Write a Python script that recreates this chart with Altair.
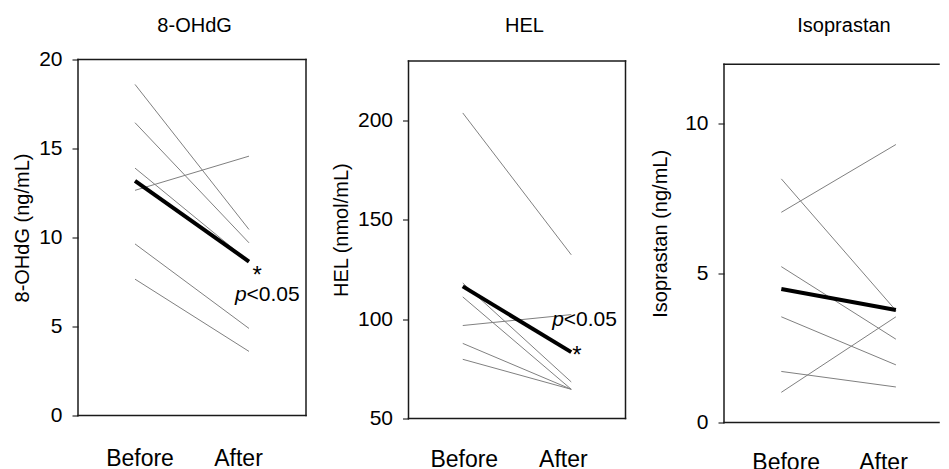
import altair as alt
import pandas as pd

FONT = "Liberation Sans"
FRAME = "#1a1a1a"
phases = ["Before", "After"]

# 8-OHdG (ng/mL), six subjects
ohdg_before = [18.6, 16.45, 13.9, 12.65, 9.64, 7.66]
ohdg_after = [10.45, 9.7, 8.65, 14.57, 4.89, 3.6]
ohdg_mean = [13.18, 8.65]

# HEL (nmol/mL)
hel_before = [203.8, 118.2, 111.2, 96.8, 87.8, 79.8]
hel_after = [132.4, 68.4, 64.7, 102.3, 64.7, 64.7]
hel_mean = [116.5, 83.4]

# Isoprastan (ng/mL)
iso_before = [7.04, 8.16, 5.22, 3.54, 1.71, 1.01]
iso_after = [9.31, 3.75, 2.79, 1.93, 1.19, 3.54]
iso_mean = [4.47, 3.77]

ohdg_ticks = [0, 5, 10, 15, 20]
hel_ticks = [50, 100, 150, 200]
iso_ticks = [0, 5, 10]


def make_panel(title, ytitle, before, after, mean, ydomain, yticks, W, H, top,
               title_offset, title_dx, ytitle_x, xlabel_pad, lab_off, annots,
               xrange=None, right_edge=True):
    rows = []
    for i, (b, a) in enumerate(zip(before, after)):
        rows.append({"id": i, "phase": "Before", "value": b})
        rows.append({"id": i, "phase": "After", "value": a})
    df = pd.DataFrame(rows)
    mdf = pd.DataFrame({"phase": phases, "value": mean})

    if xrange is None:
        xscale = alt.Scale(type="point", padding=0.5, domain=phases)
    else:
        xscale = alt.Scale(type="point", padding=0, domain=phases, range=xrange)
    x = alt.X(
        "phase:N",
        sort=phases,
        scale=xscale,
        axis=alt.Axis(
            title=None, domain=False, ticks=False, labelAngle=0,
            labelFontSize=23, labelPadding=xlabel_pad,
            labelOffset={"condition": {"test": "datum.value === 'Before'", "value": lab_off[0]},
                         "value": lab_off[1]},
        ),
    )
    inner_h = H - top
    y = alt.Y(
        "value:Q",
        scale=alt.Scale(domain=ydomain, range=[H, top], nice=False, zero=False),
        axis=alt.Axis(
            values=yticks, title=ytitle, titleX=ytitle_x, titleY=top + inner_h / 2 - 10,
            titleAngle=270, titleBaseline="middle", titleAlign="center",
            titleFontSize=20, titleFontWeight="normal",
            labelFontSize=21, labelPadding=10, tickSize=6, tickWidth=1,
            domain=False,
        ),
    )
    lines = alt.Chart(df).mark_line(color="#808080", strokeWidth=1).encode(
        x=x, y=y, detail="id:N"
    )
    meanl = alt.Chart(mdf).mark_line(color="black", strokeWidth=4, strokeCap="butt").encode(x=x, y=y)
    layers = [lines, meanl]
    for (label, style, dx, dy, size) in annots:
        adf = pd.DataFrame({"phase": ["After"], "value": [mean[1]], "label": [label]})
        layers.append(
            alt.Chart(adf).mark_text(
                align="left", baseline="alphabetic", dx=dx, dy=dy,
                fontSize=size, font=FONT, fontStyle=style, color="black",
            ).encode(x=x, y=y, text="label:N")
        )
    # plot frame
    edge = pd.DataFrame({"edge": ["frame"]})
    rule = alt.Chart(edge).mark_rule(color=FRAME, strokeWidth=1.5, strokeCap="square")
    layers += [
        rule.encode(x=alt.value(0), x2=alt.value(W), y=alt.value(top)),
        rule.encode(x=alt.value(0), x2=alt.value(W), y=alt.value(H)),
        rule.encode(x=alt.value(0), y=alt.value(top), y2=alt.value(H)),
    ]
    if right_edge:
        layers.append(rule.encode(x=alt.value(W), y=alt.value(top), y2=alt.value(H)))
    return alt.layer(*layers).properties(
        width=W, height=H,
        title=alt.TitleParams(title, fontSize=20, font=FONT, fontWeight="normal",
                              color="black", offset=title_offset, dx=title_dx),
    )


p1 = make_panel("8-OHdG", "8-OHdG (ng/mL)", ohdg_before, ohdg_after, ohdg_mean,
                [0, 20], ohdg_ticks, 228, 356, 0, 13, 2.6, -56, 32, (4.5, -11),
                [("*", "normal", 3.6, 21.4, 24), ("p", "italic", -14, 39.4, 21),
                 ("<0.05", "normal", -2.5, 39.4, 21)])
p2 = make_panel("HEL", "HEL (nmol/mL)", hel_before, hel_after, hel_mean,
                [50, 230], hel_ticks, 217, 359, 1.4, 23.2, 7.4, -67, 29.5, (1, -8.4),
                [("*", "normal", 0.9, 11, 24), ("p", "italic", -19, -26, 21),
                 ("<0.05", "normal", -7.5, -26, 21)])
p3 = make_panel("Isoprastan", "Isoprastan (ng/mL)", iso_before, iso_after, iso_mean,
                [0, 12], iso_ticks, 215, 363, 4.7, 23.4, 12.5, -63.3, 29, (4.4, -12.9), [],
                xrange=[57.3, 171.9], right_edge=False)

chart = alt.hconcat(p1, p2, p3, spacing=22.5).properties(
    padding={"left": 4, "top": 7.5, "right": 0, "bottom": 0}
).configure_view(
    stroke=None
).configure_axis(
    labelFont=FONT, titleFont=FONT, labelColor="black", titleColor="black",
    tickColor="black", grid=False,
)

chart.save("out.html", embed_options={"renderer": "svg", "actions": False})
